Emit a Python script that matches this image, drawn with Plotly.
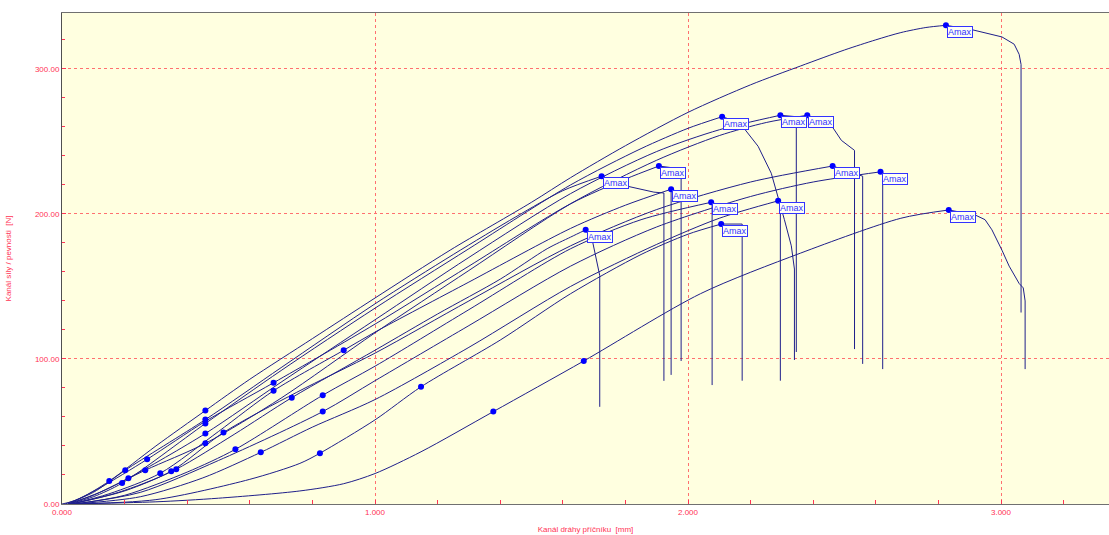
import plotly.graph_objects as go

# ---- data ----
c1_x = [0.0, 0.05, 0.151, 0.3, 0.458, 0.6, 0.8, 1.0, 1.24, 1.5, 1.625, 1.8, 2.0, 2.2, 2.36, 2.5, 2.6, 2.68, 2.76, 2.824]
c1_y = [0, 3, 15.8, 40, 64.4, 86, 114, 142, 175, 208, 225, 247, 270, 289, 302, 313, 320, 325, 328.5, 330]
c1_tx = [2.824, 2.907, 3.003, 3.042, 3.058, 3.064, 3.064]
c1_ty = [330, 327, 322, 317, 310, 303, 132]

c2_x = [0.02, 0.1, 0.192, 0.458, 0.7, 1.0, 1.3, 1.625, 1.85, 2.0, 2.109]
c2_y = [0, 5, 14.4, 55.5, 92, 135, 176, 220, 245, 259, 267]
c2_tx = [2.109, 2.15, 2.179, 2.224, 2.266, 2.288, 2.308, 2.33, 2.34, 2.34]
c2_ty = [267, 264, 259, 246.6, 228, 212, 196, 178, 162, 99.3]

c3_x = [0.02, 0.1, 0.212, 0.458, 0.7, 1.0, 1.3, 1.625, 1.9, 2.1, 2.295]
c3_y = [0, 6, 17.8, 48.6, 84, 127, 170, 214, 243, 258, 268]
c3_tx = [2.295, 2.346, 2.346]
c3_ty = [268, 267, 104.8]

c4_x = [0.02, 0.12, 0.266, 0.458, 0.7, 1.0, 1.3, 1.625, 1.9, 2.1, 2.25, 2.381]
c4_y = [0, 8, 23.3, 41.8, 73, 118, 161, 207, 237, 254, 263, 268]
c4_tx = [2.381, 2.458, 2.49, 2.513, 2.532, 2.532]
c4_ty = [268, 261, 250.7, 246.6, 243.8, 106.8]

c5_x = [0.01, 0.1, 0.202, 0.458, 0.7, 1.0, 1.25, 1.45, 1.6, 1.724]
c5_y = [0, 8, 23.3, 58.2, 94, 138, 172, 198, 216, 226]
c5_tx = [1.724, 1.808, 1.891, 1.923, 1.923]
c5_ty = [226, 219, 215, 214.4, 84.9]

c6_x = [0.02, 0.12, 0.272, 0.458, 0.676, 1.0, 1.3, 1.625, 1.8, 1.907]
c6_y = [0, 11, 30.8, 57, 83.6, 124, 164, 207, 224, 233]
c6_tx = [1.907, 1.978, 1.978]
c6_ty = [233, 231, 98.6]

c7_x = [0.03, 0.15, 0.314, 0.5, 0.676, 0.9, 1.0, 1.3, 1.625, 1.8, 1.946]
c7_y = [0, 7, 21.2, 50, 78.1, 106, 118.5, 153, 190, 206, 217]
c7_tx = [1.946, 1.946]
c7_ty = [217, 89]

c8_x = [0.03, 0.18, 0.349, 0.516, 0.75, 1.0, 1.3, 1.625, 1.9, 2.2, 2.462]
c8_y = [0, 8, 22.6, 49.3, 77, 104, 140, 178, 203, 222, 233]
c8_tx = [2.462, 2.545, 2.558, 2.558]
c8_ty = [233, 226.7, 226, 96.6]

c9_x = [0.04, 0.25, 0.5, 0.833, 1.0, 1.3, 1.625, 1.9, 2.2, 2.4, 2.615]
c9_y = [0, 8, 30, 63.7, 85, 123, 164, 191, 212, 222, 229]
c9_tx = [2.615, 2.622, 2.622]
c9_ty = [229, 229, 93]

c10_x = [0.04, 0.2, 0.4, 0.554, 0.833, 1.0, 1.3, 1.625, 1.85, 2.074]
c10_y = [0, 6, 22, 37.7, 75, 95, 134, 176, 196, 208]
c10_tx = [2.074, 2.077, 2.077]
c10_ty = [208, 208, 82]

c11_x = [0.04, 0.25, 0.45, 0.635, 0.8, 1.0, 1.3, 1.625, 1.9, 2.1, 2.288]
c11_y = [0, 5, 18, 35.6, 53, 72, 108, 150, 179, 197, 209]
c11_tx = [2.288, 2.295, 2.295]
c11_ty = [209, 209, 85]

c12_x = [0.02, 0.3, 0.6, 0.76, 0.824, 1.0, 1.147, 1.4, 1.625, 1.85, 2.0, 2.106]
c12_y = [0, 3, 17, 28, 35, 58, 80.8, 113, 145, 172, 186, 193]
c12_tx = [2.106, 2.173, 2.173]
c12_ty = [193, 193, 85]

c13_x = [0.03, 0.2, 0.365, 0.55, 0.734, 1.0, 1.2, 1.4, 1.55, 1.625, 1.673]
c13_y = [0, 9, 24, 48, 73.3, 106, 131, 155, 176, 184, 189]
c13_tx = [1.673, 1.696, 1.718, 1.718]
c13_ty = [189, 180, 157.5, 67]

c14_x = [0.02, 0.3, 0.5, 0.76, 0.9, 1.0, 1.147, 1.378, 1.667, 2.04, 2.36, 2.68, 2.833]
c14_y = [0, 1.5, 4, 9, 14, 21, 36, 63.7, 98.6, 145, 173, 197, 202.7]
c14_tx = [2.833, 2.917, 2.949, 2.971, 3.003, 3.026, 3.058, 3.071, 3.077, 3.077]
c14_ty = [202.7, 199.3, 196, 189, 175, 164, 152, 149, 140, 93]

dot_x = [0.151, 0.458, 0.202, 0.458, 0.192, 0.458, 0.212, 0.458, 0.266, 0.458, 0.272, 0.676,
         0.314, 0.676, 0.9, 0.349, 0.516, 0.365, 0.734, 0.833, 0.554, 0.833, 0.635,
         0.824, 1.147, 1.378, 1.667]
dot_y = [15.8, 64.4, 23.3, 58.2, 14.4, 55.5, 17.8, 48.6, 23.3, 41.8, 30.8, 83.6,
         21.2, 78.1, 106, 22.6, 49.3, 24.0, 73.3, 63.7, 37.7, 75, 35.6,
         35, 80.8, 63.7, 98.6]

amax_x = [2.824, 2.109, 2.295, 2.381, 1.724, 1.907, 1.946, 2.462, 2.615, 2.074, 2.288, 2.106, 1.673, 2.833]
amax_y = [330, 267, 268, 268, 226, 233, 217, 233, 229, 208, 209, 193, 189, 202.7]
amax_text = "Amax"

x_title = "Kanál dráhy příčníku  [mm]"
y_title = "Kanál síly / pevnosti  [N]"

# ---- figure ----
LINE = "#1F1F8A"
RED = "#FF3355"
fig = go.Figure()

curves = [
    (c1_x, c1_y, c1_tx, c1_ty), (c2_x, c2_y, c2_tx, c2_ty), (c3_x, c3_y, c3_tx, c3_ty),
    (c4_x, c4_y, c4_tx, c4_ty), (c5_x, c5_y, c5_tx, c5_ty), (c6_x, c6_y, c6_tx, c6_ty),
    (c7_x, c7_y, c7_tx, c7_ty), (c8_x, c8_y, c8_tx, c8_ty), (c9_x, c9_y, c9_tx, c9_ty),
    (c10_x, c10_y, c10_tx, c10_ty), (c11_x, c11_y, c11_tx, c11_ty), (c12_x, c12_y, c12_tx, c12_ty),
    (c13_x, c13_y, c13_tx, c13_ty), (c14_x, c14_y, c14_tx, c14_ty),
]
for rx, ry, tx, ty in curves:
    fig.add_trace(go.Scatter(x=rx, y=ry, mode="lines", line=dict(color=LINE, width=1, shape="spline", smoothing=0.8),
                             hoverinfo="skip", showlegend=False))
    fig.add_trace(go.Scatter(x=tx, y=ty, mode="lines", line=dict(color=LINE, width=1),
                             hoverinfo="skip", showlegend=False))

fig.add_trace(go.Scatter(x=dot_x, y=dot_y, mode="markers", marker=dict(color="#0000FF", size=6),
                         hoverinfo="skip", showlegend=False))
fig.add_trace(go.Scatter(x=amax_x, y=amax_y, mode="markers", marker=dict(color="#0000FF", size=6),
                         hoverinfo="skip", showlegend=False))

for ax_, ay_ in zip(amax_x, amax_y):
    fig.add_annotation(x=ax_, y=ay_, text=amax_text, showarrow=False, xanchor="left", yanchor="top",
                       xshift=1, yshift=-1, bgcolor="#FFFFF4", bordercolor="#3333FF", borderwidth=1,
                       borderpad=0, font=dict(family="Liberation Sans", size=9, color="#3333FF"))

fig.update_layout(
    width=1109, height=535,
    margin=dict(l=62, r=0, t=13, b=31),
    paper_bgcolor="white", plot_bgcolor="#FFFFE0",
    font=dict(family="Liberation Sans", size=8, color=RED),
    xaxis=dict(range=[0, 3.345], tick0=0, dtick=1, tickformat=".3f", showgrid=True,
               gridcolor="#FF7070", griddash="dot", gridwidth=1, zeroline=False,
               showline=True, linecolor="#707070", linewidth=1, mirror=True,
               ticks="inside", ticklen=4, tickcolor=RED,
               minor=dict(dtick=0.2, ticks="inside", ticklen=4, tickcolor=RED, showgrid=False),
               tickfont=dict(size=8, color=RED),
               title=dict(text=x_title, font=dict(size=8, color=RED), standoff=10)),
    yaxis=dict(range=[0, 338.5], tick0=0, dtick=100, tickformat=".2f", showgrid=True,
               gridcolor="#FF7070", griddash="dot", gridwidth=1, zeroline=False,
               showline=True, linecolor="#505050", linewidth=1, mirror=False,
               ticks="inside", ticklen=4, tickcolor=RED,
               minor=dict(dtick=20, ticks="inside", ticklen=3, tickcolor=RED, showgrid=False),
               tickfont=dict(size=8, color=RED),
               title=dict(text=y_title, font=dict(size=8, color=RED), standoff=22)),
)

fig.write_html("out.html")
